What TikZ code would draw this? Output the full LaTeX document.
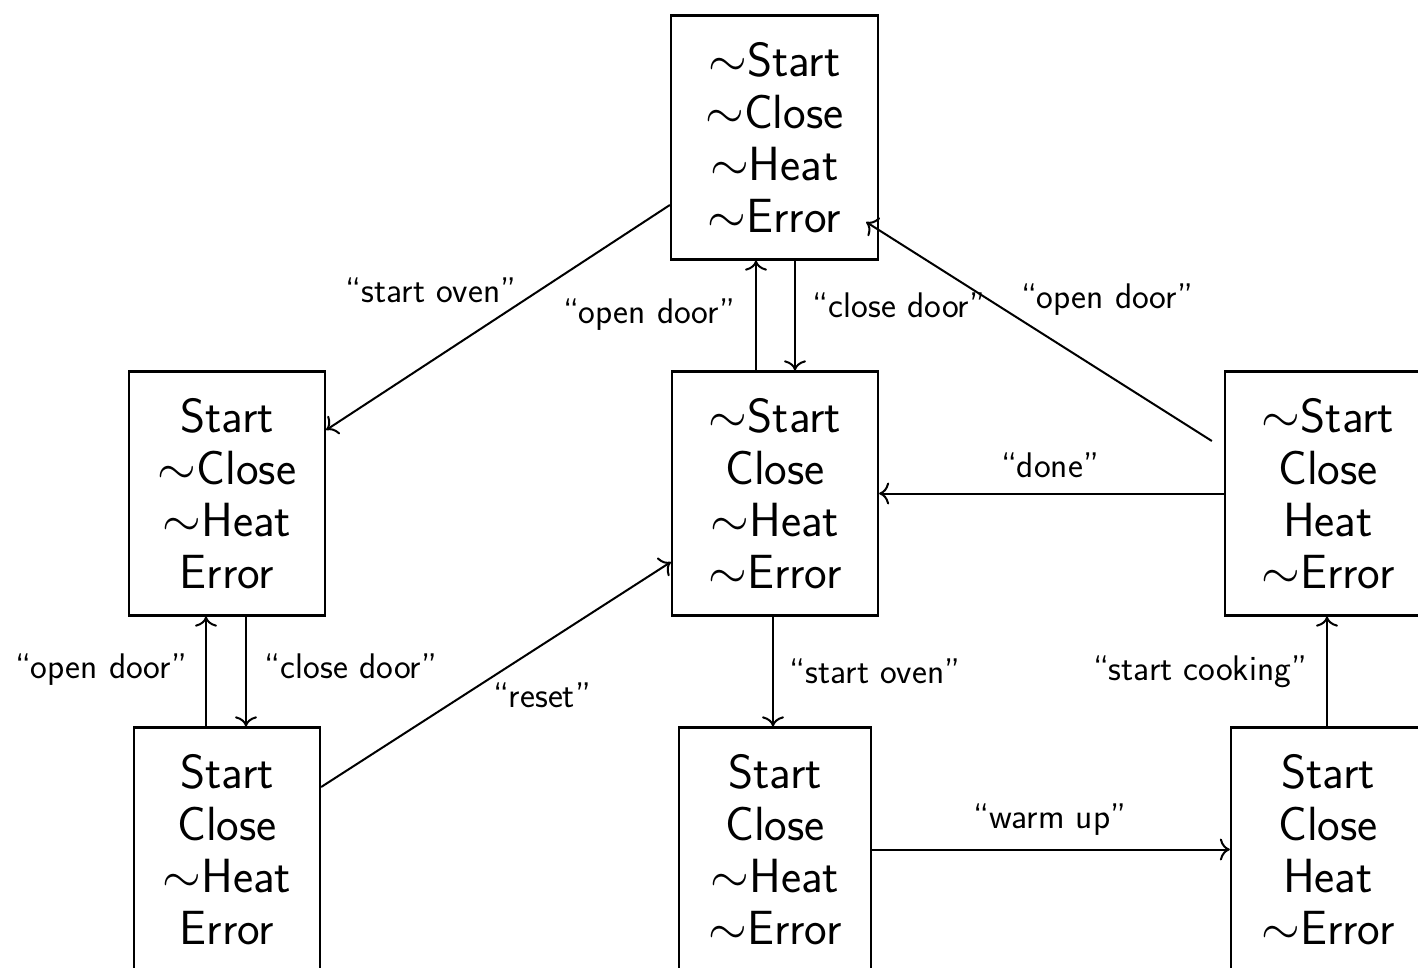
\documentclass[tikz,border=0pt]{standalone}
\usetikzlibrary{calc,arrows.meta}
\begin{document}
\begin{tikzpicture}[x=0.5pt,y=-0.5pt,
  state/.style={draw, line width=1.15pt, align=center, inner sep=0pt,
    minimum height=122pt, font=\sffamily\fontsize{24}{26}\selectfont},
  lbl/.style={inner sep=0pt, anchor=base, font=\sffamily\fontsize{17.8}{20}\selectfont},
  conn/.style={-{Computer Modern Rightarrow[length=5pt,width=11pt]}, line width=1pt}]
\clip (0,0) rectangle (1418,968);

% states
\node[state, minimum width=103.5pt] (T)  at (774.5,137.5) {$\sim$Start\\$\sim$Close\\$\sim$Heat\\$\sim$Error};
\node[state, minimum width=98pt]    (L)  at (227,493.5)  {Start\\$\sim$Close\\$\sim$Heat\\Error};
\node[state, minimum width=103pt]   (C)  at (775,493.5)  {$\sim$Start\\Close\\$\sim$Heat\\$\sim$Error};
\node[state, minimum width=103pt]   (R)  at (1328,493.5) {$\sim$Start\\Close\\Heat\\$\sim$Error};
\node[state, minimum width=93pt]    (BL) at (227,849.5)  {Start\\Close\\$\sim$Heat\\Error};
\node[state, minimum width=96pt]    (BC) at (775,849.5)  {Start\\Close\\$\sim$Heat\\$\sim$Error};
\node[state, minimum width=97pt]    (BR) at (1328,849.5) {Start\\Close\\Heat\\$\sim$Error};

% transitions
\draw[conn] ($(T.west)+(0,67.5)$) -- ($(L.east)+(0,-63.5)$);
\draw[conn] ($(C.north)+(-19,0)$) -- ($(T.south)+(-18.5,0)$);
\draw[conn] ($(T.south)+(20.5,0)$) -- ($(C.north)+(20,0)$);
\draw[conn] ($(R.west)+(-12,-52.5)$) -- ($(T.east)+(-13,84.5)$);
\draw[conn] (R.west) -- (C.east);
\draw[conn] ($(BL.north)+(-21,0)$) -- ($(L.south)+(-21,0)$);
\draw[conn] ($(L.south)+(19,0)$) -- ($(BL.north)+(19,0)$);
\draw[conn] ($(BL.east)+(0,-62.5)$) -- ($(C.west)+(0,68.5)$);
\draw[conn] ($(C.south)+(-2,0)$) -- ($(BC.north)+(-2,0)$);
\draw[conn] (BC.east) -- (BR.west);
\draw[conn] ($(BR.north)+(-1,0)$) -- ($(R.south)+(-1,0)$);

% transition labels
\node[lbl] (l1)  at (431,302)  {“start oven”};
\node[lbl] (l2)  at (649,323)  {“open door”};
\node[lbl] (l3)  at (899,317)  {“close door”};
\node[lbl] (l4)  at (1107,308) {“open door”};
\node[lbl] (l5)  at (1050,477) {“done”};
\node[lbl] (l6)  at (101,678)  {“open door”};
\node[lbl] (l7)  at (351,678)  {“close door”};
\node[lbl] (l8)  at (542,707)  {“reset”};
\node[lbl] (l9)  at (875,683)  {“start oven”};
\node[lbl] (l10) at (1200,680) {“start cooking”};
\node[lbl] (l11) at (1050,828) {“warm up”};
\end{tikzpicture}
\end{document}
